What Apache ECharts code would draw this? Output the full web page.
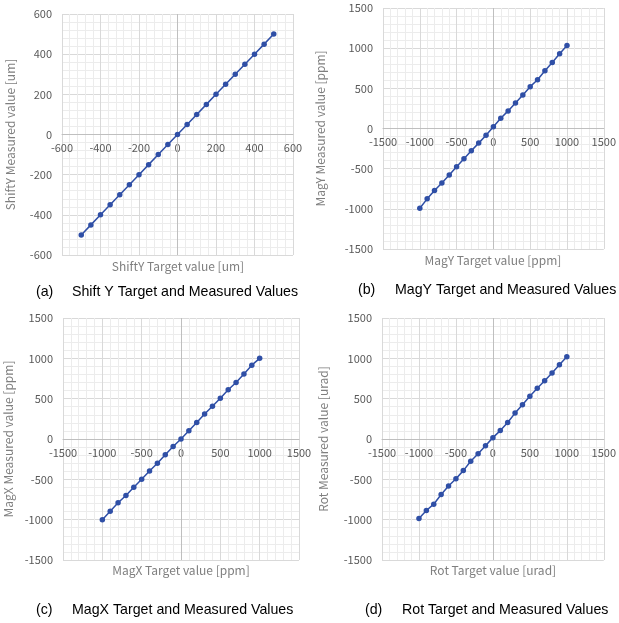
<!DOCTYPE html>
<html>
<head>
<meta charset="utf-8">
<script src="https://cdn.jsdelivr.net/npm/echarts@6/dist/echarts.min.js"></script>
<style>html,body{margin:0;padding:0;background:#fff;}#c{width:619px;height:623px;}</style>
</head>
<body>
<div id="c"></div>
<script>
// ----- data -----
const shiftYTarget = [-500,-450,-400,-350,-300,-250,-200,-150,-100,-50,0,50,100,150,200,250,300,350,400,450,500];
const shiftYMeasured = [-500,-450,-400,-350,-300,-250,-200,-150,-100,-50,0,50,100,150,200,250,300,350,400,450,500];
const magYTarget = [-1000,-900,-800,-700,-600,-500,-400,-300,-200,-100,0,100,200,300,400,500,600,700,800,900,1000];
const magYMeasured = [-992,-876,-773,-678,-579,-475,-376,-277,-182,-83,21,128,219,318,417,521,607,719,822,930,1033];
const magXTarget = [-1000,-900,-800,-700,-600,-500,-400,-300,-200,-100,0,100,200,300,400,500,600,700,800,900,1000];
const magXMeasured = [-1000,-895,-790,-700,-597,-500,-397,-300,-196,-92,0,102,205,310,405,505,610,700,805,915,1000];
const rotTarget = [-1000,-900,-800,-700,-600,-500,-400,-300,-200,-100,0,100,200,300,400,500,600,700,800,900,1000];
const rotMeasured = [-987,-887,-808,-688,-583,-492,-392,-275,-183,-83,17,104,204,321,425,529,629,721,817,921,1021];

const xNames = ['ShiftY Target value [um]','MagY Target value [ppm]','MagX Target value [ppm]','Rot Target value [urad]'];
const yNames = ['ShiftY Measured value [um]','MagY Measured value [ppm]','MagX Measured value [ppm]','Rot Measured value [urad]'];
const captionsLabel = ['(a)','(b)','(c)','(d)'];
const captionsText = ['Shift Y Target and Measured Values','MagY Target and Measured Values','MagX Target and Measured Values','Rot Target and Measured Values'];
const axisMin = [-600,-1500,-1500,-1500];
const axisMax = [600,1500,1500,1500];
const axisInterval = [200,500,500,500];

// ----- layout -----
const grids = [
  {left:62, top:14, width:231, height:241},
  {left:383, top:8, width:221, height:241},
  {left:63, top:318, width:236, height:242},
  {left:382, top:318, width:222, height:242}
];
const yNameGap = [46,57,49,53];
const xNamePos = [[178,266],[493,260],[181,570],[493,570]];
const capPos = [[[36,292],[72,292]],[[358,290],[395,290]],[[36,610],[72,610]],[[365,610],[402,610]]];

const pairs = (xs, ys) => xs.map((x,i)=>[x, ys[i]]);
const seriesData = [pairs(shiftYTarget,shiftYMeasured), pairs(magYTarget,magYMeasured), pairs(magXTarget,magXMeasured), pairs(rotTarget,rotMeasured)];

const font = '"Noto Sans CJK JP", "Noto Sans", sans-serif';
const blue = '#2f4fa6';
const fmt = v => String(v);

const option = {
  animation:false,
  backgroundColor:'#fff',
  grid: grids.map(g=>Object.assign({containLabel:false}, g)),
  xAxis: grids.map((g,i)=>({
    type:'value', gridIndex:i, min:axisMin[i], max:axisMax[i], interval:axisInterval[i],
    position:'bottom', offset: -g.height/2,
    axisLine:{show:true, onZero:false, lineStyle:{color:'#bfbfbf', width:1}},
    axisTick:{show:false},
    axisLabel:{color:'#595959', fontSize:11, fontFamily:font, margin:8, formatter:fmt, showMinLabel:true, showMaxLabel:true},
    splitLine:{show:true, lineStyle:{color:'#d9d9d9', width:1}},
    minorTick:{show:false, splitNumber:5},
    minorSplitLine:{show:true, lineStyle:{color:'#ececec', width:1}}
  })),
  yAxis: grids.map((g,i)=>({
    type:'value', gridIndex:i, min:axisMin[i], max:axisMax[i], interval:axisInterval[i],
    axisLine:{show:false, onZero:false},
    axisTick:{show:false},
    axisLabel:{color:'#595959', fontSize:11, fontFamily:font, margin:10, formatter:fmt},
    splitLine:{show:true, lineStyle:{color:'#d9d9d9', width:1}},
    minorTick:{show:false, splitNumber:5},
    minorSplitLine:{show:true, lineStyle:{color:'#ececec', width:1}},
    name: yNames[i], nameLocation:'middle', nameGap:yNameGap[i], nameRotate:90,
    nameTextStyle:{color:'#7f7f7f', fontSize:12, fontFamily:font}
  })),
  series: seriesData.map((d,i)=>({
    type:'line', xAxisIndex:i, yAxisIndex:i, data:d,
    symbol:'circle', symbolSize:5.5,
    lineStyle:{color:blue, width:1.5},
    itemStyle:{color:blue},
    markLine:{silent:true, symbol:'none', label:{show:false},
      lineStyle:{color:'#bfbfbf', width:1, type:'solid'},
      data:[{xAxis:0}]},
    z:5
  })),
  graphic: [].concat(
    xNamePos.map((p,i)=>({type:'text', x:p[0], y:p[1], style:{text:xNames[i], fill:'#7f7f7f', font:'12px '+font, textAlign:'center', textVerticalAlign:'middle'}})),
    capPos.map((p,i)=>({type:'text', x:p[0][0], y:p[0][1], style:{text:captionsLabel[i], fill:'#000', font:'14.2px "Liberation Sans", Arial, sans-serif', textAlign:'left', textVerticalAlign:'middle'}})),
    capPos.map((p,i)=>({type:'text', x:p[1][0], y:p[1][1], style:{text:captionsText[i], fill:'#000', font:'14.2px "Liberation Sans", Arial, sans-serif', textAlign:'left', textVerticalAlign:'middle'}}))
  )
};
echarts.init(document.getElementById('c')).setOption(option);
</script>
</body>
</html>
